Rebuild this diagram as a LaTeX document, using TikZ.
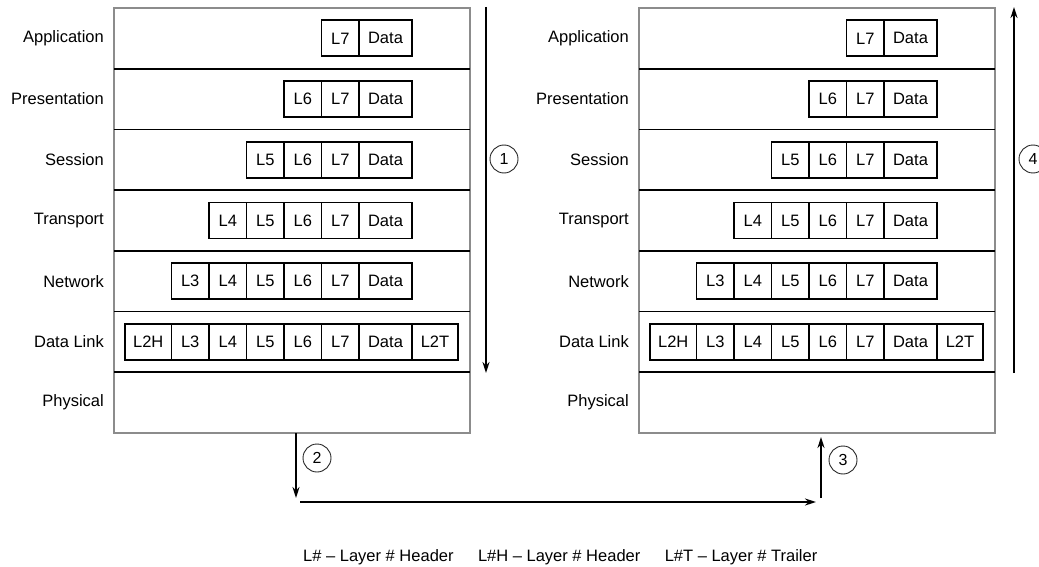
\documentclass[tikz,border=0pt]{standalone}
\usepackage{fontspec}
\setmainfont{Liberation Sans}
\usetikzlibrary{arrows.meta}
\usetikzlibrary{positioning}

\begin{document}
\begin{tikzpicture}[x=1pt,y=-1pt,>={Stealth[length=11pt,width=7pt]},
    every node/.style={font=\fontsize{16.5}{19}\selectfont},
    cell/.style={draw,line width=1.8pt,inner sep=0pt,outer sep=0pt,minimum height=36pt,minimum width=37.5pt},
    layer name/.style={anchor=east,inner sep=0pt},
    frame/.style={draw=black!45,line width=1.5pt},
    divider/.style={line width=1.6pt},
    flow/.style={->,line width=1.8pt},
    num/.style={circle,draw=black!85,line width=0.9pt,minimum size=28pt,inner sep=0pt,font=\fontsize{16}{18}\selectfont}]
  \useasboundingbox (0,0) rectangle (1039,567);
  % the two stacks (sender A, receiver B)
  \foreach \s/\x in {A/114,B/639}{
    \draw[frame] (\x,8) rectangle ++(356,425);
    \foreach \i in {1,...,6}
      \draw[divider] (\x,{8+\i*60.71}) -- ++(356,0);
    \foreach \name [count=\r] in {Application,Presentation,Session,Transport,Network,Data Link,Physical}
      \node[layer name] (\s-lbl-\r) at ({\x-10},{8+(\r-0.5)*60.71}) {\name};
    \foreach \r in {1,...,6}{
      \pgfmathtruncatemacro\n{max(8-\r,3)}
      \pgfmathsetmacro\y{8+(\r-0.5)*60.71}
      \node[cell,minimum width=53pt,anchor=east] (\s-\r-d) at ({\x+298},\y) {Data};
      \foreach \k in {\n,...,7}
        \node[cell,anchor=east] (\s-\r-\k) at ({\x+245-(7-\k)*37.5},\y) {L\k};
    }
    \node[cell,minimum width=46.5pt,left=0pt of \s-6-3] (\s-6-h) {L2H};
    \node[cell,minimum width=46pt,right=0pt of \s-6-d] (\s-6-t) {L2T};
  }
  % steps
  \coordinate (s1a) at (486,7);
  \coordinate (s1b) at (486,373);
  \coordinate (s2a) at (296,433);
  \coordinate (s2b) at (296,498);
  \coordinate (wa) at (300,502);
  \coordinate (wb) at (816,502);
  \coordinate (s3a) at (821,498);
  \coordinate (s3b) at (821,437);
  \coordinate (s4a) at (1014,373);
  \coordinate (s4b) at (1014,7);
  \draw[flow] (s1a) -- (s1b);
  \draw[flow] (s2a) -- (s2b);
  \draw[flow] (wa) -- (wb);
  \draw[flow] (s3a) -- (s3b);
  \draw[flow] (s4a) -- (s4b);
  \node[num] (n1) at (504,159) {1};
  \node[num] (n2) at (317,458) {2};
  \node[num] (n3) at (843,460) {3};
  \node[num] (n4) at (1033,159) {4};
  % legend
  \node[anchor=west,inner sep=0pt] (key1) at (303,557.5) {L\# \textendash\ Layer \# Header};
  \node[inner sep=0pt,right=24pt of key1] (key2) {L\#H \textendash\ Layer \# Header};
  \node[inner sep=0pt,right=24pt of key2] (key3) {L\#T \textendash\ Layer \# Trailer};
\end{tikzpicture}
\end{document}
